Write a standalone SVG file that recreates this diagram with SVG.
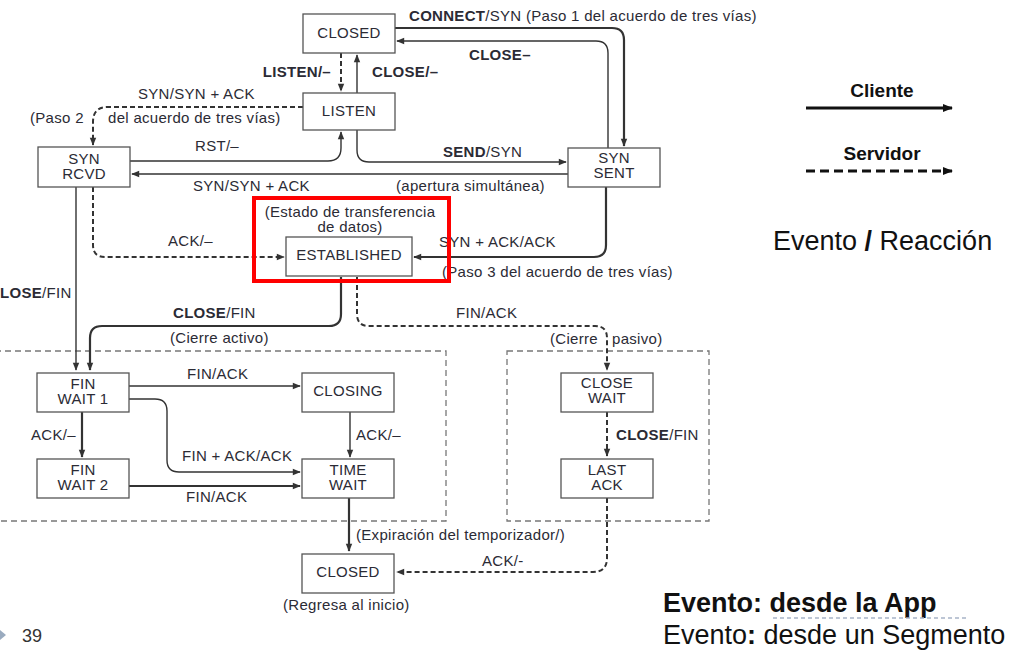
<svg xmlns="http://www.w3.org/2000/svg" width="1017" height="668" viewBox="0 0 1017 668">
<style>
text{font-family:"Liberation Sans",Arial,sans-serif;fill:#2b2b35}
.t{font-size:15px;letter-spacing:0.3px}
.c{text-anchor:middle}
.b{font-weight:bold}
.box{fill:#fff;stroke:#555;stroke-width:1.3}
.ln{fill:none;stroke:#333;stroke-width:1.4}
.th{fill:none;stroke:#333;stroke-width:2.2}
.da{fill:none;stroke:#333;stroke-width:2;stroke-dasharray:5 3}
.grp{fill:none;stroke:#777;stroke-width:1.3;stroke-dasharray:6 4}
.lg{font-size:19px;font-weight:bold;fill:#111}
.big{font-size:27px;fill:#111}
</style>
<defs>
<marker id="ah" viewBox="0 0 10 10" refX="9" refY="5" markerWidth="9" markerHeight="8" markerUnits="userSpaceOnUse" orient="auto">
<path d="M0,1 L10,5 L0,9 z" fill="#333"/>
</marker>
<marker id="ahL" viewBox="0 0 10 10" refX="9" refY="5" markerWidth="11" markerHeight="10" markerUnits="userSpaceOnUse" orient="auto">
<path d="M0,1 L10,5 L0,9 z" fill="#111"/>
</marker>
</defs>
<rect width="1017" height="668" fill="#fff"/>

<g id="groups">
<rect class="grp" x="-5" y="351" width="451" height="170"/>
<rect class="grp" x="507" y="351" width="202" height="170"/>
</g>

<g id="connectors">
<path class="th" d="M395,28 H612 Q624,28 624,40 V146" marker-end="url(#ah)"/>
<path class="ln" d="M608,148 V53 Q608,41 596,41 H397" marker-end="url(#ah)"/>
<path class="da" d="M341,53 V91" marker-end="url(#ah)"/>
<path class="ln" d="M357,93 V55" marker-end="url(#ah)"/>
<path class="da" d="M303,107 H108 Q93,107 93,122 V145" marker-end="url(#ah)"/>
<path class="ln" d="M130,161 H328 Q341,161 341,148 V132" marker-end="url(#ah)"/>
<path class="ln" d="M568,174 H132" marker-end="url(#ah)"/>
<path class="ln" d="M357,130 V150 Q357,162 369,162 H566" marker-end="url(#ah)"/>
<path class="th" d="M606,187 V245 Q606,257 594,257 H414" marker-end="url(#ah)"/>
<path class="da" d="M93,187 V245 Q93,257 105,257 H284" marker-end="url(#ah)"/>
<path class="ln" d="M76,187 V370" marker-end="url(#ah)"/>
<path class="th" d="M341,277 V314 Q341,326 329,326 H102 Q90,326 90,338 V370" marker-end="url(#ah)"/>
<path class="da" d="M357,277 V314 Q357,326 369,326 H595 Q607,326 607,338 V370" marker-end="url(#ah)"/>
<path class="ln" d="M129,386 H300" marker-end="url(#ah)"/>
<path class="ln" d="M129,399 H155 Q167,399 167,411 V460 Q167,472 179,472 H300" marker-end="url(#ah)"/>
<path class="th" d="M82,412 V457" marker-end="url(#ah)"/>
<path class="th" d="M129,486 H300" marker-end="url(#ah)"/>
<path class="ln" d="M350,412 V457" marker-end="url(#ah)"/>
<path class="da" d="M607,412 V456" marker-end="url(#ah)"/>
<path class="th" d="M349,498 V551" marker-end="url(#ah)"/>
<path class="da" d="M607,498 V558 Q607,572 593,572 H397" marker-end="url(#ah)"/>
</g>

<g id="closed-top"><rect class="box" x="303" y="14" width="92" height="39"/><text class="t c" x="349" y="38">CLOSED</text></g>
<g id="listen"><rect class="box" x="303" y="93" width="92" height="37"/><text class="t c" x="349" y="116">LISTEN</text></g>
<g id="syn-rcvd"><rect class="box" x="38" y="147" width="92" height="40"/><text class="t c" x="84" y="164">SYN<tspan x="84" dy="15">RCVD</tspan></text></g>
<g id="syn-sent"><rect class="box" x="568" y="148" width="92" height="39"/><text class="t c" x="614" y="163">SYN<tspan x="614" dy="15">SENT</tspan></text></g>
<g id="established"><rect class="box" x="286" y="237" width="126" height="39"/><text class="t c" x="349" y="260">ESTABLISHED</text></g>
<g id="fin-wait-1"><rect class="box" x="37" y="373" width="92" height="39"/><text class="t c" x="83" y="389">FIN<tspan x="83" dy="15">WAIT 1</tspan></text></g>
<g id="fin-wait-2"><rect class="box" x="37" y="459" width="92" height="39"/><text class="t c" x="83" y="475">FIN<tspan x="83" dy="15">WAIT 2</tspan></text></g>
<g id="closing"><rect class="box" x="302" y="373" width="92" height="39"/><text class="t c" x="348" y="396">CLOSING</text></g>
<g id="time-wait"><rect class="box" x="302" y="459" width="92" height="39"/><text class="t c" x="348" y="475">TIME<tspan x="348" dy="15">WAIT</tspan></text></g>
<g id="close-wait"><rect class="box" x="561" y="373" width="92" height="39"/><text class="t c" x="607" y="388">CLOSE<tspan x="607" dy="15">WAIT</tspan></text></g>
<g id="last-ack"><rect class="box" x="561" y="459" width="92" height="39"/><text class="t c" x="607" y="475">LAST<tspan x="607" dy="15">ACK</tspan></text></g>
<g id="closed-bottom"><rect class="box" x="302" y="554" width="92" height="39"/><text class="t c" x="348" y="577">CLOSED</text></g>

<g id="labels">
<text class="t" x="409" y="21"><tspan class="b">CONNECT</tspan>/SYN (Paso 1 del acuerdo de tres vías)</text>
<text class="t b" x="469" y="60">CLOSE–</text>
<text class="t b" x="331" y="77" text-anchor="end">LISTEN/–</text>
<text class="t b" x="372" y="77">CLOSE/–</text>
<text class="t" x="138" y="99">SYN/SYN + ACK</text>
<text class="t" x="30" y="123">(Paso 2</text>
<text class="t" x="108" y="123">del acuerdo de tres vías)</text>
<text class="t" x="195" y="151">RST/–</text>
<text class="t" x="443" y="157"><tspan class="b">SEND</tspan>/SYN</text>
<text class="t" x="193" y="191">SYN/SYN + ACK</text>
<text class="t" x="396" y="191">(apertura simultánea)</text>
<text class="t c" x="350" y="217">(Estado de transferencia</text>
<text class="t c" x="350" y="232">de datos)</text>
<text class="t" x="168" y="246">ACK/–</text>
<text class="t" x="439" y="247">SYN + ACK/ACK</text>
<text class="t" x="442" y="277">(Paso 3 del acuerdo de tres vías)</text>
<text class="t" x="0" y="298"><tspan class="b">LOSE</tspan>/FIN</text>
<text class="t" x="173" y="318"><tspan class="b">CLOSE</tspan>/FIN</text>
<text class="t" x="170" y="343">(Cierre activo)</text>
<text class="t" x="456" y="318">FIN/ACK</text>
<text class="t" x="550" y="344">(Cierre</text>
<text class="t" x="612" y="344">pasivo)</text>
<text class="t" x="187" y="379">FIN/ACK</text>
<text class="t" x="31" y="440">ACK/–</text>
<text class="t" x="182" y="461">FIN + ACK/ACK</text>
<text class="t" x="356" y="440">ACK/–</text>
<text class="t" x="186" y="502">FIN/ACK</text>
<text class="t" x="616" y="440"><tspan class="b">CLOSE</tspan>/FIN</text>
<text class="t" x="356" y="540">(Expiración del temporizador/)</text>
<text class="t" x="482" y="566">ACK/-</text>
<text class="t" x="283" y="610">(Regresa al inicio)</text>
</g>

<g id="highlight">
<rect x="254" y="198" width="195" height="83" fill="none" stroke="#ff0000" stroke-width="4"/>
</g>

<g id="legend">
<text class="lg c" x="882" y="97">Cliente</text>
<path d="M806,108 H952" stroke="#111" stroke-width="3" fill="none" marker-end="url(#ahL)"/>
<text class="lg c" x="882" y="160">Servidor</text>
<path d="M806,171 H952" stroke="#111" stroke-width="3" fill="none" stroke-dasharray="9 5" marker-end="url(#ahL)"/>
<text class="big" x="773" y="250">Evento <tspan class="b">/</tspan> Reacción</text>
<text class="big b" x="663" y="612">Evento: desde la App</text>
<path d="M773,618 H967" stroke="#a8b4c8" stroke-width="1.5" stroke-dasharray="4 3" fill="none"/>
<text class="big" x="663" y="644">Evento<tspan class="b">:</tspan> desde un Segmento</text>
</g>

<g id="footer">
<path d="M0,630 L6,635 L0,640 z" fill="#9aabbf"/>
<text x="22" y="642" style="font-size:18px;fill:#333">39</text>
</g>
</svg>
